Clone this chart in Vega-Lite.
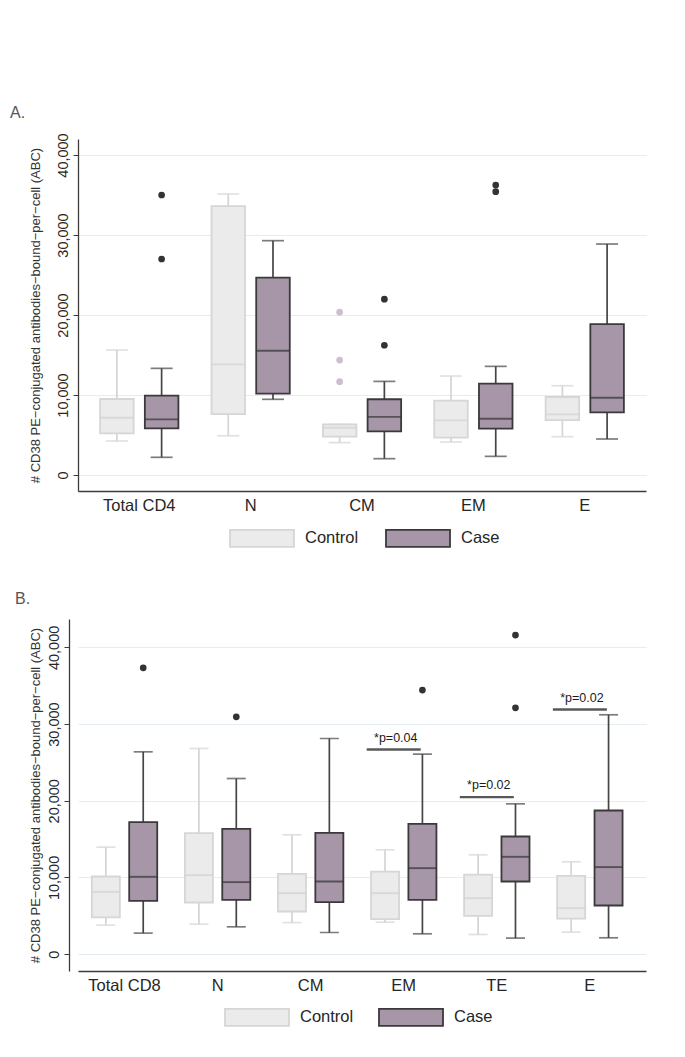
{
  "$schema": "https://vega.github.io/schema/vega-lite/v6.json",
  "background": "white",
  "padding": {"left": 10, "top": 104, "right": 10, "bottom": 10},
  "config": {
    "font": "Liberation Sans",
    "view": {"stroke": null},
    "axis": {"domainColor": "#3c3c3c", "domainWidth": 1.3, "tickColor": "#3c3c3c", "labelColor": "#262626", "titleColor": "#333333", "gridColor": "#e4edf1"},
    "concat": {"spacing": 40}
  },
  "datasets": {
    "boxesA": [
      {"cat": "Total CD4", "group": "Control", "lower": 4250, "q1": 5200, "median": 7160, "q3": 9500, "upper": 15620},
      {"cat": "Total CD4", "group": "Case", "lower": 2210, "q1": 5830, "median": 6950, "q3": 9910, "upper": 13330},
      {"cat": "N", "group": "Control", "lower": 4910, "q1": 7620, "median": 13830, "q3": 33620, "upper": 35120},
      {"cat": "N", "group": "Case", "lower": 9460, "q1": 10160, "median": 15540, "q3": 24660, "upper": 29290},
      {"cat": "CM", "group": "Control", "lower": 4040, "q1": 4790, "median": 5910, "q3": 6330, "upper": 6330},
      {"cat": "CM", "group": "Case", "lower": 2040, "q1": 5450, "median": 7270, "q3": 9470, "upper": 11700},
      {"cat": "EM", "group": "Control", "lower": 4120, "q1": 4660, "median": 6830, "q3": 9290, "upper": 12370},
      {"cat": "EM", "group": "Case", "lower": 2330, "q1": 5790, "median": 7040, "q3": 11430, "upper": 13580},
      {"cat": "E", "group": "Control", "lower": 4790, "q1": 6870, "median": 7580, "q3": 9750, "upper": 11160},
      {"cat": "E", "group": "Case", "lower": 4500, "q1": 7830, "median": 9660, "q3": 18870, "upper": 28870}
    ],
    "outA": [
      {"cat": "Total CD4", "group": "Case", "value": 35000},
      {"cat": "Total CD4", "group": "Case", "value": 27000},
      {"cat": "CM", "group": "Control", "value": 20350},
      {"cat": "CM", "group": "Control", "value": 14370},
      {"cat": "CM", "group": "Control", "value": 11660},
      {"cat": "CM", "group": "Case", "value": 21980},
      {"cat": "CM", "group": "Case", "value": 16220},
      {"cat": "EM", "group": "Case", "value": 36250},
      {"cat": "EM", "group": "Case", "value": 35410}
    ],
    "boxesB": [
      {"cat": "Total CD8", "group": "Control", "lower": 3780, "q1": 4780, "median": 8120, "q3": 10120, "upper": 13950},
      {"cat": "Total CD8", "group": "Case", "lower": 2740, "q1": 6950, "median": 10080, "q3": 17210, "upper": 26380},
      {"cat": "N", "group": "Control", "lower": 3910, "q1": 6730, "median": 10300, "q3": 15780, "upper": 26820},
      {"cat": "N", "group": "Case", "lower": 3560, "q1": 7080, "median": 9390, "q3": 16340, "upper": 22900},
      {"cat": "CM", "group": "Control", "lower": 4120, "q1": 5560, "median": 7950, "q3": 10470, "upper": 15560},
      {"cat": "CM", "group": "Case", "lower": 2820, "q1": 6780, "median": 9470, "q3": 15820, "upper": 28120},
      {"cat": "EM", "group": "Control", "lower": 4170, "q1": 4560, "median": 7950, "q3": 10770, "upper": 13600},
      {"cat": "EM", "group": "Case", "lower": 2650, "q1": 7080, "median": 11210, "q3": 16990, "upper": 26080},
      {"cat": "TE", "group": "Control", "lower": 2560, "q1": 4990, "median": 7300, "q3": 10380, "upper": 12950},
      {"cat": "TE", "group": "Case", "lower": 2090, "q1": 9470, "median": 12690, "q3": 15340, "upper": 19600},
      {"cat": "E", "group": "Control", "lower": 2870, "q1": 4640, "median": 6000, "q3": 10210, "upper": 12040},
      {"cat": "E", "group": "Case", "lower": 2130, "q1": 6340, "median": 11350, "q3": 18730, "upper": 31210}
    ],
    "outB": [
      {"cat": "Total CD8", "group": "Case", "value": 37330},
      {"cat": "N", "group": "Case", "value": 30950},
      {"cat": "EM", "group": "Case", "value": 34430},
      {"cat": "TE", "group": "Case", "value": 41600},
      {"cat": "TE", "group": "Case", "value": 32120}
    ],
    "sigB": [
      {"cat": "EM", "value": 26680, "label": "*p=0.04"},
      {"cat": "TE", "value": 20470, "label": "*p=0.02"},
      {"cat": "E", "value": 31890, "label": "*p=0.02"}
    ]
  },
  "vconcat": [
    {
      "title": {"text": "A.", "anchor": "start", "frame": "group", "dx": -68, "offset": 12, "fontSize": 16, "fontWeight": "normal", "color": "#555555"},
      "width": 568,
      "height": 352,
      "layer": [
        {
          "data": {"name": "boxesA"},
          "mark": {"type": "rule", "strokeWidth": 1.7},
          "encoding": {
            "x": {"field": "cat", "type": "nominal", "sort": ["Total CD4", "N", "CM", "EM", "E"], "scale": {"paddingInner": 0, "paddingOuter": 0.05}, "axis": {"title": null, "labelAngle": 0, "ticks": false, "labelFontSize": 16.5, "labelPadding": 6, "grid": false}},
            "xOffset": {"field": "group", "type": "nominal", "sort": ["Control", "Case"], "scale": {"paddingInner": 0.25, "paddingOuter": 0.37}},
            "y": {"field": "lower", "type": "quantitative", "title": "# CD38 PE−conjugated antibodies−bound−per−cell (ABC)", "scale": {"domain": [-2000, 42000], "nice": false, "zero": false}, "axis": {"values": [0, 10000, 20000, 30000, 40000], "format": ",d", "labelAngle": -90, "labelFontSize": 14.5, "tickSize": 5, "labelPadding": 3, "titleFontSize": 13, "titleFontWeight": "normal", "titlePadding": 13, "grid": true}},
            "y2": {"field": "upper"},
            "color": {"condition": {"test": "datum.group === 'Control'", "value": "#d4d4d4"}, "value": "#454545"}
          }
        },
        {
          "data": {"name": "boxesA"},
          "mark": {"type": "tick", "size": 22, "thickness": 1.7},
          "encoding": {
            "x": {"field": "cat", "type": "nominal", "sort": ["Total CD4", "N", "CM", "EM", "E"]},
            "xOffset": {"field": "group", "type": "nominal", "sort": ["Control", "Case"]},
            "y": {"field": "lower", "type": "quantitative", "title": "# CD38 PE−conjugated antibodies−bound−per−cell (ABC)"},
            "color": {"condition": {"test": "datum.group === 'Control'", "value": "#d4d4d4"}, "value": "#454545"}
          }
        },
        {
          "data": {"name": "boxesA"},
          "mark": {"type": "tick", "size": 22, "thickness": 1.7},
          "encoding": {
            "x": {"field": "cat", "type": "nominal", "sort": ["Total CD4", "N", "CM", "EM", "E"]},
            "xOffset": {"field": "group", "type": "nominal", "sort": ["Control", "Case"]},
            "y": {"field": "upper", "type": "quantitative", "title": "# CD38 PE−conjugated antibodies−bound−per−cell (ABC)"},
            "color": {"condition": {"test": "datum.group === 'Control'", "value": "#d4d4d4"}, "value": "#454545"}
          }
        },
        {
          "data": {"name": "boxesA"},
          "mark": {"type": "bar", "strokeWidth": 1.8},
          "encoding": {
            "x": {"field": "cat", "type": "nominal", "sort": ["Total CD4", "N", "CM", "EM", "E"]},
            "xOffset": {"field": "group", "type": "nominal", "sort": ["Control", "Case"]},
            "y": {"field": "q1", "type": "quantitative", "title": "# CD38 PE−conjugated antibodies−bound−per−cell (ABC)"},
            "y2": {"field": "q3"},
            "fill": {"field": "group", "type": "nominal", "scale": {"domain": ["Control", "Case"], "range": ["#ebebeb", "#a696a8"]}, "legend": {"orient": "none", "legendX": 151, "legendY": 366, "direction": "horizontal", "title": null, "symbolType": "M-1,-0.266L1,-0.266L1,0.266L-1,0.266Z", "symbolSize": 4096, "symbolStrokeWidth": 1.8, "labelFontSize": 16.5, "labelColor": "#262626", "labelOffset": 10, "columnPadding": 23, "padding": 0}},
            "stroke": {"field": "group", "type": "nominal", "scale": {"domain": ["Control", "Case"], "range": ["#d6d6d6", "#3a3a3a"]}, "legend": {"orient": "none", "legendX": 151, "legendY": 366, "direction": "horizontal", "title": null, "symbolType": "M-1,-0.266L1,-0.266L1,0.266L-1,0.266Z", "symbolSize": 4096, "symbolStrokeWidth": 1.8, "labelFontSize": 16.5, "labelColor": "#262626", "labelOffset": 10, "columnPadding": 23, "padding": 0}}
          }
        },
        {
          "data": {"name": "boxesA"},
          "mark": {"type": "tick", "size": 33, "thickness": 1.9},
          "encoding": {
            "x": {"field": "cat", "type": "nominal", "sort": ["Total CD4", "N", "CM", "EM", "E"]},
            "xOffset": {"field": "group", "type": "nominal", "sort": ["Control", "Case"]},
            "y": {"field": "median", "type": "quantitative", "title": "# CD38 PE−conjugated antibodies−bound−per−cell (ABC)"},
            "color": {"condition": {"test": "datum.group === 'Control'", "value": "#d2d2d2"}, "value": "#333333"}
          }
        },
        {
          "data": {"name": "outA"},
          "mark": {"type": "point", "filled": true, "size": 45, "opacity": 1},
          "encoding": {
            "x": {"field": "cat", "type": "nominal", "sort": ["Total CD4", "N", "CM", "EM", "E"]},
            "xOffset": {"field": "group", "type": "nominal", "sort": ["Control", "Case"]},
            "y": {"field": "value", "type": "quantitative", "title": "# CD38 PE−conjugated antibodies−bound−per−cell (ABC)"},
            "color": {"condition": {"test": "datum.group === 'Control'", "value": "#cbbfcd"}, "value": "#333333"}
          }
        }
      ]
    },
    {
      "title": {"text": "B.", "anchor": "start", "frame": "group", "dx": -63, "offset": 12, "fontSize": 16, "fontWeight": "normal", "color": "#555555"},
      "width": 568,
      "height": 352,
      "layer": [
        {
          "data": {"name": "boxesB"},
          "mark": {"type": "rule", "strokeWidth": 1.7},
          "encoding": {
            "x": {"field": "cat", "type": "nominal", "sort": ["Total CD8", "N", "CM", "EM", "TE", "E"], "scale": {"paddingInner": 0, "paddingOuter": 0.0516, "align": 0}, "axis": {"title": null, "labelAngle": 0, "ticks": false, "labelFontSize": 16.5, "labelPadding": 6, "grid": false}},
            "xOffset": {"field": "group", "type": "nominal", "sort": ["Control", "Case"], "scale": {"paddingInner": 0.25, "paddingOuter": 0.37}},
            "y": {"field": "lower", "type": "quantitative", "title": "# CD38 PE−conjugated antibodies−bound−per−cell (ABC)", "scale": {"domain": [-2200, 43700], "nice": false, "zero": false}, "axis": {"values": [0, 10000, 20000, 30000, 40000], "format": ",d", "labelAngle": -90, "labelFontSize": 14.5, "tickSize": 5, "labelPadding": 3, "titleFontSize": 13, "titleFontWeight": "normal", "titlePadding": 4, "offset": 9, "grid": true}},
            "y2": {"field": "upper"},
            "color": {"condition": {"test": "datum.group === 'Control'", "value": "#d4d4d4"}, "value": "#454545"}
          }
        },
        {
          "data": {"name": "boxesB"},
          "mark": {"type": "tick", "size": 19, "thickness": 1.7},
          "encoding": {
            "x": {"field": "cat", "type": "nominal", "sort": ["Total CD8", "N", "CM", "EM", "TE", "E"]},
            "xOffset": {"field": "group", "type": "nominal", "sort": ["Control", "Case"]},
            "y": {"field": "lower", "type": "quantitative", "title": "# CD38 PE−conjugated antibodies−bound−per−cell (ABC)"},
            "color": {"condition": {"test": "datum.group === 'Control'", "value": "#d4d4d4"}, "value": "#454545"}
          }
        },
        {
          "data": {"name": "boxesB"},
          "mark": {"type": "tick", "size": 19, "thickness": 1.7},
          "encoding": {
            "x": {"field": "cat", "type": "nominal", "sort": ["Total CD8", "N", "CM", "EM", "TE", "E"]},
            "xOffset": {"field": "group", "type": "nominal", "sort": ["Control", "Case"]},
            "y": {"field": "upper", "type": "quantitative", "title": "# CD38 PE−conjugated antibodies−bound−per−cell (ABC)"},
            "color": {"condition": {"test": "datum.group === 'Control'", "value": "#d4d4d4"}, "value": "#454545"}
          }
        },
        {
          "data": {"name": "boxesB"},
          "mark": {"type": "bar", "strokeWidth": 1.8},
          "encoding": {
            "x": {"field": "cat", "type": "nominal", "sort": ["Total CD8", "N", "CM", "EM", "TE", "E"]},
            "xOffset": {"field": "group", "type": "nominal", "sort": ["Control", "Case"]},
            "y": {"field": "q1", "type": "quantitative", "title": "# CD38 PE−conjugated antibodies−bound−per−cell (ABC)"},
            "y2": {"field": "q3"},
            "fill": {"field": "group", "type": "nominal", "scale": {"domain": ["Control", "Case"], "range": ["#ebebeb", "#a696a8"]}, "legend": {"orient": "none", "legendX": 146, "legendY": 365, "direction": "horizontal", "title": null, "symbolType": "M-1,-0.266L1,-0.266L1,0.266L-1,0.266Z", "symbolSize": 4096, "symbolStrokeWidth": 1.8, "labelFontSize": 16.5, "labelColor": "#262626", "labelOffset": 10, "columnPadding": 21, "padding": 0}},
            "stroke": {"field": "group", "type": "nominal", "scale": {"domain": ["Control", "Case"], "range": ["#d6d6d6", "#3a3a3a"]}, "legend": {"orient": "none", "legendX": 146, "legendY": 365, "direction": "horizontal", "title": null, "symbolType": "M-1,-0.266L1,-0.266L1,0.266L-1,0.266Z", "symbolSize": 4096, "symbolStrokeWidth": 1.8, "labelFontSize": 16.5, "labelColor": "#262626", "labelOffset": 10, "columnPadding": 21, "padding": 0}}
          }
        },
        {
          "data": {"name": "boxesB"},
          "mark": {"type": "tick", "size": 28, "thickness": 1.9},
          "encoding": {
            "x": {"field": "cat", "type": "nominal", "sort": ["Total CD8", "N", "CM", "EM", "TE", "E"]},
            "xOffset": {"field": "group", "type": "nominal", "sort": ["Control", "Case"]},
            "y": {"field": "median", "type": "quantitative", "title": "# CD38 PE−conjugated antibodies−bound−per−cell (ABC)"},
            "color": {"condition": {"test": "datum.group === 'Control'", "value": "#d2d2d2"}, "value": "#333333"}
          }
        },
        {
          "data": {"name": "outB"},
          "mark": {"type": "point", "filled": true, "size": 45, "opacity": 1},
          "encoding": {
            "x": {"field": "cat", "type": "nominal", "sort": ["Total CD8", "N", "CM", "EM", "TE", "E"]},
            "xOffset": {"field": "group", "type": "nominal", "sort": ["Control", "Case"]},
            "y": {"field": "value", "type": "quantitative", "title": "# CD38 PE−conjugated antibodies−bound−per−cell (ABC)"},
            "color": {"value": "#333333"}
          }
        },
        {
          "data": {"name": "sigB"},
          "mark": {"type": "tick", "size": 54, "thickness": 2.4, "xOffset": -10, "color": "#111111"},
          "encoding": {
            "x": {"field": "cat", "type": "nominal", "sort": ["Total CD8", "N", "CM", "EM", "TE", "E"]},
            "y": {"field": "value", "type": "quantitative", "title": "# CD38 PE−conjugated antibodies−bound−per−cell (ABC)"}
          }
        },
        {
          "data": {"name": "sigB"},
          "mark": {"type": "text", "fontSize": 12.5, "dx": -8, "dy": -8, "baseline": "alphabetic", "color": "#1a1a1a"},
          "encoding": {
            "x": {"field": "cat", "type": "nominal", "sort": ["Total CD8", "N", "CM", "EM", "TE", "E"]},
            "y": {"field": "value", "type": "quantitative", "title": "# CD38 PE−conjugated antibodies−bound−per−cell (ABC)"},
            "text": {"field": "label"}
          }
        }
      ]
    }
  ],
  "resolve": {
    "scale": {"x": "independent", "y": "independent", "xOffset": "independent", "fill": "independent", "stroke": "independent"},
    "legend": {"fill": "independent", "stroke": "independent"}
  }
}
